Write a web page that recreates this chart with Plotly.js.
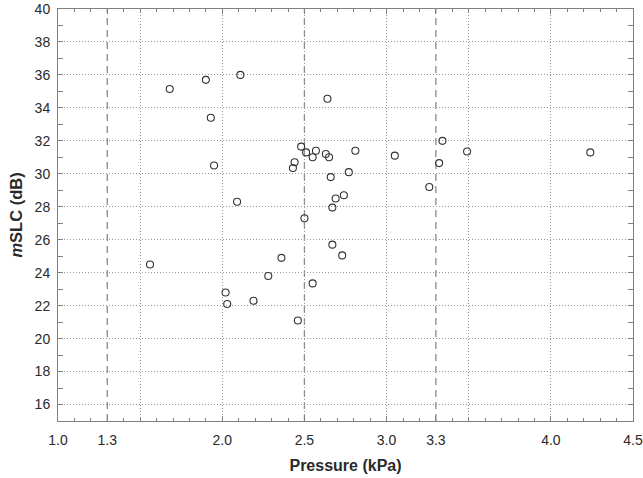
<!DOCTYPE html>
<html>
<head>
<meta charset="utf-8">
<script src="https://cdn.plot.ly/plotly-3.0.1.min.js"></script>
<style>
  html, body { margin: 0; padding: 0; background: #fff; }
  #graph { width: 643px; height: 478px; }
</style>
</head>
<body>
<div id="graph"></div>
<script>
// pressure (kPa) and mSLC (dB)
var pressure = [1.56, 1.68, 1.90, 1.93, 1.95, 2.02, 2.03, 2.09, 2.11, 2.19,
                2.28, 2.36, 2.43, 2.44, 2.46, 2.48, 2.50, 2.51, 2.55, 2.55,
                2.57, 2.63, 2.64, 2.65, 2.66, 2.67, 2.67, 2.69, 2.73, 2.74,
                2.77, 2.81, 3.05, 3.26, 3.32, 3.34, 3.49, 4.24]
var mslc = [24.5, 35.15, 35.7, 33.4, 30.5, 22.8, 22.1, 28.3, 36.0, 22.3,
            23.8, 24.9, 30.35, 30.7, 21.1, 31.65, 27.3, 31.3, 31.0, 23.35,
            31.4, 31.2, 34.55, 31.0, 29.8, 27.95, 25.7, 28.5, 25.05, 28.7,
            30.1, 31.4, 31.1, 29.2, 30.65, 32.0, 31.35, 31.3]

// x tick labels and the dashed reference pressures
var xTicks = [1.0, 1.3, 2.0, 2.5, 3.0, 3.3, 4.0, 4.5]
var xTickText = ['1.0', '1.3', '2.0', '2.5', '3.0', '3.3', '4.0', '4.5']
var refLines = [1.3, 2.5, 3.3]

var font = 'Liberation Sans, Arial, sans-serif'
var axisColor = '#808080'
var gridColor = '#9a9a9a'
var gridDash = '1px,2px'

var trace = {
    x: pressure,
    y: mslc,
    type: 'scatter',
    mode: 'markers',
    marker: {
        symbol: 'circle-open',
        size: 7,
        color: '#333',
        line: { width: 1.1, color: '#333' }
    },
    hoverinfo: 'x+y'
}

// empty trace so the grid-only overlay axis gets drawn
var gridHolder = { x: [], y: [], xaxis: 'x2', type: 'scatter', mode: 'markers', showlegend: false, hoverinfo: 'skip' }

var shapes = refLines.map(function (v) {
    return {
        type: 'line', xref: 'x', yref: 'paper',
        x0: v, x1: v, y0: 0, y1: 1,
        layer: 'below',
        line: { color: '#8a8a8a', width: 1.3, dash: '7px,5px' }
    }
})

var layout = {
    width: 643,
    height: 478,
    autosize: false,
    margin: { l: 58, r: 10, t: 9, b: 57 },
    paper_bgcolor: '#fff',
    plot_bgcolor: '#fff',
    showlegend: false,
    font: { family: font, size: 14, color: '#2a2a2a' },
    xaxis: {
        range: [1.0, 4.5],
        tickvals: xTicks,
        ticktext: xTickText,
        ticks: 'inside',
        ticklen: 5,
        tickcolor: axisColor,
        showgrid: false,
        zeroline: false,
        showline: true,
        linecolor: axisColor,
        mirror: 'allticks',
        ticklabelstandoff: 6,
        minor: { dtick: 0.1, tick0: 1.0, ticks: 'inside', ticklen: 3, tickcolor: axisColor, showgrid: false },
        title: { text: '<b>Pressure (kPa)</b>', font: { family: font, size: 16, color: '#2a2a2a' }, standoff: 13 },
        automargin: false
    },
    // overlay axis carrying only the dotted vertical grid
    xaxis2: {
        overlaying: 'x',
        anchor: 'y',
        range: [1.0, 4.5],
        tick0: 1.0,
        dtick: 0.5,
        showgrid: true,
        griddash: gridDash,
        gridcolor: gridColor,
        gridwidth: 1,
        showticklabels: false,
        ticks: '',
        showline: false,
        zeroline: false
    },
    yaxis: {
        range: [15, 40],
        tick0: 16,
        dtick: 2,
        ticks: 'inside',
        ticklen: 5,
        tickcolor: axisColor,
        showgrid: true,
        griddash: gridDash,
        gridcolor: gridColor,
        zeroline: false,
        showline: true,
        linecolor: axisColor,
        mirror: 'allticks',
        ticklabelstandoff: 4,
        minor: { dtick: 1, tick0: 15, ticks: 'inside', ticklen: 3, tickcolor: axisColor, showgrid: false },
        title: { text: '<b><i>m</i>SLC (dB)</b>', font: { family: font, size: 16.5, color: '#2a2a2a' }, standoff: 7 },
        automargin: false
    },
    shapes: shapes
}

Plotly.newPlot('graph', [gridHolder, trace], layout, { staticPlot: true, displayModeBar: false })
</script>
</body>
</html>
